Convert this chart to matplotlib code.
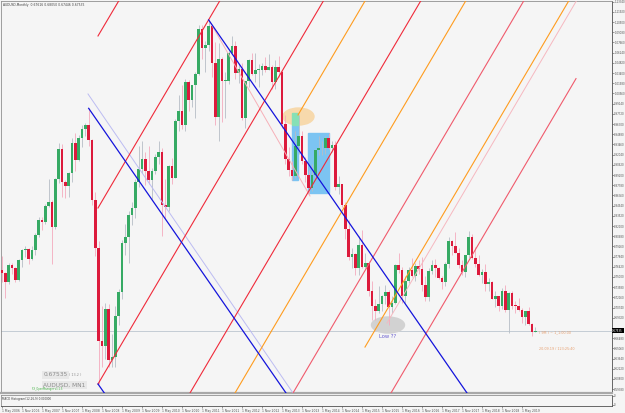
import numpy as np
import matplotlib.pyplot as plt
from matplotlib.patches import Ellipse, Rectangle

# AUDUSD monthly candles, index 0 = May 2006 ... 160 = Sep 2019
opens = [0.7600, 0.7560, 0.7430, 0.7660, 0.7620, 0.7460, 0.7740, 0.7870, 0.7890, 0.7750,
         0.7880, 0.8080, 0.8290, 0.8270, 0.8490, 0.8540, 0.8190, 0.8860, 0.9280, 0.8820,
         0.8770, 0.8950, 0.9360, 0.9130, 0.9430, 0.9560, 0.9610, 0.9410, 0.8570, 0.7910,
         0.6610, 0.6540, 0.7060, 0.6350, 0.6390, 0.6960, 0.7290, 0.7980, 0.8050, 0.8360,
         0.8460, 0.8820, 0.9010, 0.9140, 0.8970, 0.8850, 0.8970, 0.9170, 0.9240, 0.8500,
         0.8470, 0.9050, 0.8880, 0.9670, 0.9810, 0.9620, 1.0210, 0.9970, 1.0180, 1.0330,
         1.0950, 1.0690, 1.0730, 1.0990, 1.0480, 0.9730, 1.0540, 1.0230, 1.0230, 1.0620,
         1.0720, 1.0340, 1.0400, 0.9720, 1.0230, 1.0520, 1.0330, 1.0380, 1.0380, 1.0440,
         1.0380, 1.0420, 1.0220, 1.0420, 1.0350, 0.9630, 0.9140, 0.8990, 0.8910, 0.9330,
         0.9460, 0.9110, 0.8920, 0.8740, 0.8920, 0.9270, 0.9290, 0.9300, 0.9430, 0.9290,
         0.9340, 0.8750, 0.8800, 0.8500, 0.8170, 0.7780, 0.7820, 0.7620, 0.7950, 0.7640,
         0.7700, 0.7300, 0.7100, 0.7020, 0.7130, 0.7230, 0.7290, 0.7080, 0.7140, 0.7660,
         0.7600, 0.7230, 0.7450, 0.7600, 0.7510, 0.7650, 0.7610, 0.7390, 0.7220, 0.7580,
         0.7660, 0.7630, 0.7480, 0.7430, 0.7680, 0.8000, 0.7930, 0.7840, 0.7660, 0.7570,
         0.7800, 0.8060, 0.7770, 0.7680, 0.7530, 0.7570, 0.7400, 0.7430, 0.7200, 0.7230,
         0.7090, 0.7310, 0.7040, 0.7270, 0.7100, 0.7095, 0.7040, 0.6940, 0.7020, 0.6840,
         0.6740]
highs = [0.7790, 0.7575, 0.7700, 0.7700, 0.7640, 0.7750, 0.7890, 0.7930, 0.7900, 0.7930,
         0.8110, 0.8340, 0.8330, 0.8510, 0.8860, 0.8570, 0.8880, 0.9370, 0.9350, 0.8850,
         0.8960, 0.9430, 0.9500, 0.9480, 0.9620, 0.9640, 0.9849, 0.9420, 0.8680, 0.8000,
         0.7090, 0.7140, 0.7130, 0.6700, 0.7100, 0.7330, 0.8010, 0.8240, 0.8420, 0.8540,
         0.8860, 0.9330, 0.9400, 0.9240, 0.9320, 0.9020, 0.9210, 0.9400, 0.9300, 0.8860,
         0.9060, 0.9160, 0.9700, 1.0040, 1.0180, 1.0260, 1.0250, 1.0180, 1.0350, 1.1010,
         1.1010, 1.0780, 1.1080, 1.1000, 1.0770, 1.0760, 1.0560, 1.0350, 1.0650, 1.0860,
         1.0790, 1.0460, 1.0480, 1.0230, 1.0540, 1.0620, 1.0620, 1.0470, 1.0480, 1.0560,
         1.0600, 1.0450, 1.0520, 1.0580, 1.0380, 0.9760, 0.9310, 0.9110, 0.9530, 0.9750,
         0.9530, 0.9170, 0.8990, 0.9080, 0.9280, 0.9460, 0.9400, 0.9460, 0.9500, 0.9400,
         0.9400, 0.8900, 0.8800, 0.8550, 0.8290, 0.7910, 0.7840, 0.8070, 0.8160, 0.7840,
         0.7720, 0.7440, 0.7200, 0.7380, 0.7250, 0.7390, 0.7320, 0.7240, 0.7680, 0.7840,
         0.7640, 0.7520, 0.7640, 0.7760, 0.7700, 0.7730, 0.7780, 0.7520, 0.7620, 0.7740,
         0.7750, 0.7640, 0.7520, 0.7710, 0.8060, 0.8010, 0.8120, 0.7900, 0.7730, 0.7810,
         0.8140, 0.8100, 0.7920, 0.7810, 0.7610, 0.7680, 0.7480, 0.7450, 0.7310, 0.7240,
         0.7350, 0.7390, 0.7290, 0.7300, 0.7170, 0.7210, 0.7070, 0.7030, 0.7080, 0.6860,
         0.6805]
lows = [0.7430, 0.7205, 0.7400, 0.7540, 0.7430, 0.7440, 0.7640, 0.7780, 0.7680, 0.7730,
        0.7810, 0.8060, 0.8160, 0.8240, 0.8470, 0.7680, 0.8170, 0.8810, 0.8610, 0.8600,
        0.8610, 0.8820, 0.8980, 0.9110, 0.9310, 0.9470, 0.9320, 0.8500, 0.7790, 0.6009,
        0.6250, 0.6360, 0.6250, 0.6250, 0.6250, 0.6830, 0.7190, 0.7800, 0.7700, 0.8220,
        0.8320, 0.8750, 0.8950, 0.8780, 0.8790, 0.8580, 0.8940, 0.9080, 0.8070, 0.8310,
        0.8420, 0.8800, 0.8880, 0.9540, 0.9560, 0.9540, 0.9810, 0.9870, 0.9710, 1.0320,
        1.0530, 1.0360, 1.0650, 1.0280, 0.9620, 0.9390, 0.9660, 0.9710, 1.0190, 1.0600,
        1.0260, 1.0200, 0.9690, 0.9580, 1.0150, 1.0320, 1.0220, 1.0150, 1.0320, 1.0360,
        1.0380, 1.0120, 1.0120, 1.0280, 0.9580, 0.9080, 0.8900, 0.8850, 0.8880, 0.9210,
        0.9070, 0.8820, 0.8660, 0.8700, 0.8890, 0.9200, 0.9200, 0.9210, 0.9280, 0.9240,
        0.8710, 0.8650, 0.8480, 0.8030, 0.7740, 0.7630, 0.7530, 0.7530, 0.7630, 0.7630,
        0.7230, 0.6900, 0.6900, 0.7000, 0.7020, 0.7130, 0.6830, 0.7000, 0.7120, 0.7560,
        0.7140, 0.7140, 0.7420, 0.7500, 0.7440, 0.7540, 0.7310, 0.7160, 0.7160, 0.7540,
        0.7500, 0.7470, 0.7330, 0.7370, 0.7620, 0.7800, 0.7830, 0.7630, 0.7530, 0.7500,
        0.7760, 0.7750, 0.7640, 0.7520, 0.7410, 0.7310, 0.7310, 0.7190, 0.7080, 0.7020,
        0.7050, 0.7010, 0.6720, 0.7050, 0.7000, 0.7020, 0.6860, 0.6830, 0.6830, 0.6680,
        0.6735]
closes = [0.7560, 0.7430, 0.7660, 0.7620, 0.7460, 0.7740, 0.7870, 0.7890, 0.7750, 0.7880,
          0.8080, 0.8290, 0.8270, 0.8490, 0.8540, 0.8190, 0.8860, 0.9280, 0.8820, 0.8770,
          0.8950, 0.9360, 0.9130, 0.9430, 0.9560, 0.9610, 0.9410, 0.8570, 0.7910, 0.6610,
          0.6540, 0.7060, 0.6350, 0.6390, 0.6960, 0.7290, 0.7980, 0.8050, 0.8360, 0.8460,
          0.8820, 0.9010, 0.9140, 0.8970, 0.8850, 0.8970, 0.9170, 0.9240, 0.8500, 0.8470,
          0.9050, 0.8880, 0.9670, 0.9810, 0.9620, 1.0210, 0.9970, 1.0180, 1.0330, 1.0950,
          1.0690, 1.0730, 1.0990, 1.0480, 0.9730, 1.0540, 1.0230, 1.0230, 1.0620, 1.0720,
          1.0340, 1.0400, 0.9720, 1.0230, 1.0520, 1.0330, 1.0380, 1.0380, 1.0440, 1.0380,
          1.0420, 1.0220, 1.0420, 1.0350, 0.9630, 0.9140, 0.8990, 0.8910, 0.9330, 0.9460,
          0.9110, 0.8920, 0.8740, 0.8920, 0.9270, 0.9290, 0.9300, 0.9430, 0.9290, 0.9340,
          0.8750, 0.8800, 0.8500, 0.8170, 0.7780, 0.7820, 0.7620, 0.7950, 0.7640, 0.7700,
          0.7300, 0.7100, 0.7020, 0.7130, 0.7230, 0.7290, 0.7080, 0.7140, 0.7660, 0.7600,
          0.7230, 0.7450, 0.7600, 0.7510, 0.7650, 0.7610, 0.7390, 0.7220, 0.7580, 0.7660,
          0.7630, 0.7480, 0.7430, 0.7680, 0.8000, 0.7930, 0.7840, 0.7660, 0.7570, 0.7800,
          0.8060, 0.7770, 0.7680, 0.7530, 0.7570, 0.7400, 0.7430, 0.7200, 0.7230, 0.7090,
          0.7310, 0.7040, 0.7270, 0.7100, 0.7095, 0.7040, 0.6940, 0.7020, 0.6840, 0.6740,
          0.67535]

last_price = 0.67535

# drawn objects: (start month, start price, end month, end price)
blue_lines = [(26.0, 0.9849, 85.2, 0.5884), (62.0, 1.1080, 139.5, 0.5884), (28.8, 0.6009, 30.7, 0.5884)]
lavender_lines = [(25.8, 1.0049, 87.3, 0.5884)]
pink_down_lines = [(62.4, 1.1052, 92.4, 0.8628)]
red_lines = [(28.8, 1.0857, 35.0, 1.1344), (28.8, 0.8461, 65.3, 1.1344),
             (28.8, 0.6009, 96.4, 1.1344), (56.4, 0.5884, 125.6, 1.1344)]
red_light_lines = [(87.3, 0.5884, 156.5, 1.1344), (116.7, 0.5884, 172.2, 1.0263)]
orange_lines = [(88.8, 0.9756, 108.9, 1.1344), (69.9, 0.5884, 139.1, 1.1344), (108.9, 0.6524, 170.0, 1.1344)]
pink_up_lines = [(115.5, 0.6859, 172.3, 1.1344)]

price_ticks = np.round(np.arange(1.1334, 0.588, -0.0142), 5)
price_ticks = price_ticks[np.abs(price_ticks - last_price) > 0.006]
date_ticks = list(range(0, 157, 6))
date_labels = ["1 %s %d" % ("May" if i % 12 == 0 else "Nov", 2006 + i // 12) for i in date_ticks]

bg = '#f5f5f5'
fig = plt.figure(figsize=(6.25, 4.13), dpi=100, facecolor=bg)
ax = fig.add_axes([1 / 625, 1 - 393 / 413, 611 / 625, 392 / 413], facecolor=bg)
ax.set_xlim(-0.3, 183.0)
ax.set_ylim(0.5884, 1.1344)

# current price line
ax.axhline(last_price, color='#c4ccd4', lw=0.7, zorder=1)

# highlight shapes
ax.add_patch(Ellipse((88.95, 0.9735), 9.3, 0.0237, color='#f7d9ac', zorder=1))
ax.add_patch(Rectangle((87.0, 0.8851), 1.8, 0.0765, color='#7cc4f2', zorder=1))
ax.add_patch(Rectangle((87.0, 0.9616), 1.8, 0.0174, color='#86e0b6', zorder=1))
ax.add_patch(Rectangle((91.8, 0.8670), 6.3, 0.0835, color='#7cc4f2', zorder=1))
ax.add_patch(Ellipse((115.8, 0.6831), 9.9, 0.0223, color='#d2d2d2', zorder=1))

# candles
x = np.arange(len(closes))
o = np.array(opens)
h = np.array(highs)
l = np.array(lows)
c = np.array(closes)
up = c >= o
ax.vlines(x[up], l[up], h[up], color='#b6bec6', lw=0.6, zorder=2)
ax.vlines(x[~up], l[~up], h[~up], color='#f4aabd', lw=0.6, zorder=2)
body = np.maximum(np.abs(c - o), 0.0012)
ax.bar(x[up], body[up], bottom=np.minimum(o, c)[up], width=0.75, color='#36aa64', zorder=3)
ax.bar(x[~up], body[~up], bottom=np.minimum(o, c)[~up], width=0.75, color='#dc1a3c', zorder=3)

# pitchfork lines
def draw(lines, color, lw):
    for m0, p0, m1, p1 in lines:
        ax.plot([m0, m1], [p0, p1], color=color, lw=lw, zorder=4)

draw(lavender_lines, '#bcbcf2', 0.7)
draw(pink_down_lines, '#f6b0b8', 0.7)
draw(pink_up_lines, '#f6b8c0', 0.7)
draw(red_lines, '#f02a3a', 0.8)
draw(red_light_lines, '#f05a6c', 0.8)
draw(orange_lines, '#ff9c1e', 0.8)
draw(blue_lines, '#1414dc', 0.9)

# texts
ax.text(0.003, 0.996, "AUDUSD,Monthly  0.67616 0.68050 0.67446 0.67535",
        transform=ax.transAxes, fontsize=2.2, color='#404040', va='top')
ax.text(113.2, 0.6675, "Low ??", fontsize=3.8, color='#6a5fd0', va='center')
ax.text(161.2, 0.6733, "( 9M ) ~ 1_1:00:00", fontsize=2.4, color='#e8a070', va='center')
ax.text(161.2, 0.6497, "20.09.19 / 123:25:40", fontsize=2.4, color='#e8a070', va='center')
ax.text(0.0695, 0.046, "0.67535", transform=ax.transAxes, fontsize=4.2, color='#8c8c8c', va='center',
        bbox=dict(boxstyle='square,pad=0.25', fc='#e8e8e8', ec='none'))
ax.text(0.111, 0.046, "( 13.2 )", transform=ax.transAxes, fontsize=2.4, color='#8c8c8c', va='center')
ax.text(0.0695, 0.021, "AUDUSD, MN1", transform=ax.transAxes, fontsize=4.2, color='#8c8c8c', va='center',
        bbox=dict(boxstyle='square,pad=0.25', fc='#e8e8e8', ec='none'))
ax.text(0.051, 0.004, "FX_OpenManager v1.1.5", transform=ax.transAxes, fontsize=1.8,
        color='#40b040', va='bottom')

# price axis
ax.yaxis.tick_right()
ax.set_yticks(price_ticks)
ax.set_yticklabels(["%.5f" % v for v in price_ticks])
ax.tick_params(axis='y', labelsize=1.9, length=1.2, width=0.4, pad=0.5, colors='#505050')
ax.set_xticks([])
ax.text(1.0005, last_price, "%.5f" % last_price, transform=ax.get_yaxis_transform(),
        fontsize=1.9, color='white', va='center',
        bbox=dict(boxstyle='square,pad=0.3', fc='black', ec='none'))
for s in ['left', 'top']:
    ax.spines[s].set_color('#909090')
    ax.spines[s].set_linewidth(0.6)
ax.spines['right'].set_color('#505050')
ax.spines['right'].set_linewidth(0.6)
ax.spines['bottom'].set_color('#a8a8a8')
ax.spines['bottom'].set_linewidth(1.6)

# indicator sub-window
ax2 = fig.add_axes([1 / 625, 1 - 406 / 413, 611 / 625, 11 / 413], facecolor=bg)
ax2.set_xlim(-0.3, 183.0)
ax2.set_ylim(0, 1)
ax2.text(0.002, 0.85, "MACD Histogram(12,26,9) 0.000000", transform=ax2.transAxes,
         fontsize=2.0, color='#404040', va='top')
ax2.yaxis.tick_right()
ax2.set_yticks([0.1, 0.95])
ax2.set_yticklabels(["0", "0"])
ax2.tick_params(axis='y', labelsize=1.9, length=1.2, width=0.4, pad=0.5, colors='#505050')
ax2.set_xticks(date_ticks)
ax2.set_xticklabels(date_labels, ha='left')
ax2.tick_params(axis='x', labelsize=2.2, length=1.5, width=0.4, pad=0.6, colors='#505050')
for s in ['left', 'top']:
    ax2.spines[s].set_color('#909090')
    ax2.spines[s].set_linewidth(0.6)
ax2.spines['right'].set_color('#505050')
ax2.spines['right'].set_linewidth(0.6)
ax2.spines['bottom'].set_color('#505050')
ax2.spines['bottom'].set_linewidth(0.6)

fig.savefig('out.png', dpi=100, facecolor=bg)
